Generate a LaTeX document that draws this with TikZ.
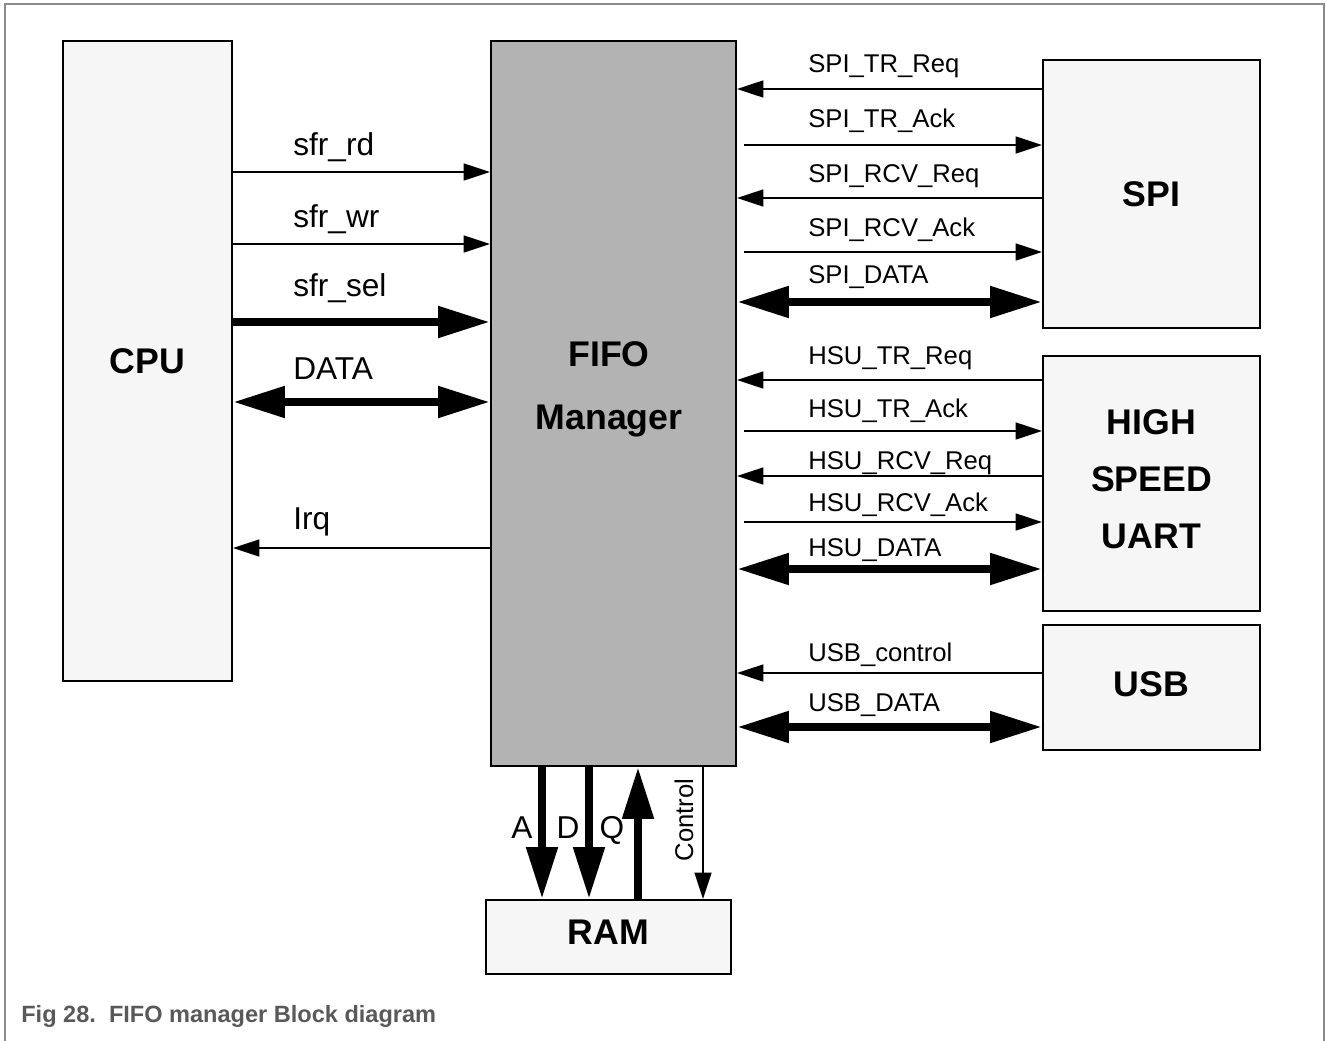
\documentclass[tikz,border=0pt]{standalone}
\usepackage{fontspec}
\setmainfont{Liberation Sans}
\usetikzlibrary{arrows.meta, positioning}

\definecolor{framegray}{HTML}{8C8C8C}
\definecolor{boxfill}{HTML}{F6F6F6}
\definecolor{fifofill}{HTML}{B3B3B3}
\definecolor{captiongray}{HTML}{595959}

\tikzset{
  block/.style={draw, line width=1.2pt, fill=boxfill, inner sep=0pt, align=center, font=\fontsize{20.3}{32.3}\selectfont\bfseries},
  sig/.style={line width=1.1pt, -{Triangle[length=15pt, width=9.6pt]}},
  bus/.style={line width=4.8pt, -{Triangle[length=29.5pt, width=17pt]}},
  busboth/.style={line width=4.8pt, {Triangle[length=29.5pt, width=17pt]}-{Triangle[length=29.5pt, width=17pt]}},
  cpulbl/.style={anchor=base west, inner sep=0pt, font=\fontsize{18}{21}\selectfont},
  perlbl/.style={anchor=base west, inner sep=0pt, font=\fontsize{14.6}{17}\selectfont},
}

\begin{document}
\begin{tikzpicture}[x=0.02cm, y=-0.02cm]
  \useasboundingbox (0,0) rectangle (1326,1041);
  \draw[framegray, line width=0.9pt] (5,1041) -- (5,4) -- (1324,4) -- (1324,1041);

  % blocks
  \node[block, minimum width=3.38cm, minimum height=12.8cm] (cpu) at (147.5,361) {CPU};
  \node[block, fill=fifofill, minimum width=4.9cm, minimum height=14.5cm] (fifo) at (613.5,403.5) {};
  \node[inner sep=0pt, align=center, font=\fontsize{20.3}{35.7}\selectfont\bfseries] (fifolbl) at (609,389) {FIFO\\Manager};
  \node[block, minimum width=4.34cm, minimum height=5.36cm] (spi) at (1151.5,194) {SPI};
  \node[block, minimum width=4.34cm, minimum height=5.1cm, text depth=5pt] (hsu) at (1151.5,483.5) {HIGH\\SPEED\\UART};
  \node[block, minimum width=4.34cm, minimum height=2.5cm, text depth=4pt] (usb) at (1151.5,687.5) {USB};
  \node[block, minimum width=4.9cm, minimum height=1.48cm, text depth=5pt] (ram) at (608.5,937) {RAM};

  % CPU side
  \draw[sig] (cpu.east |- 0,172) -- (fifo.west |- 0,172);
  \draw[sig] (cpu.east |- 0,244) -- (fifo.west |- 0,244);
  \draw[bus] (cpu.east |- 0,322) -- (fifo.west |- 0,322);
  \draw[busboth] (cpu.east |- 0,402) -- (fifo.west |- 0,402);
  \draw[sig] (fifo.west |- 0,548) -- (cpu.east |- 0,548);
  \node[cpulbl] (rd) at (293,155) {sfr\_rd};
  \node[cpulbl] (wr) at (293,227) {sfr\_wr};
  \node[cpulbl] (sel) at (293,296) {sfr\_sel};
  \node[cpulbl] (data) at (293,379) {DATA};
  \node[cpulbl] (irq) at (293,529) {Irq};

  % peripheral side
  \foreach \src/\y/\b/\txt in {spi/89/72/SPI\_TR\_Req, spi/198/182/SPI\_RCV\_Req, hsu/380/364/HSU\_TR\_Req, hsu/476/469/HSU\_RCV\_Req, usb/673/661/USB\_control} {
    \draw[sig] (\src.west |- 0,\y) -- (fifo.east |- 0,\y);
    \node[perlbl] (l\y) at (808,\b) {\txt};
  }
  \foreach \dst/\y/\b/\txt in {spi/145/127/SPI\_TR\_Ack, spi/252/236/SPI\_RCV\_Ack, hsu/431/417/HSU\_TR\_Ack, hsu/522/511/HSU\_RCV\_Ack} {
    \draw[sig] ([xshift=4pt]fifo.east |- 0,\y) -- (\dst.west |- 0,\y);
    \node[perlbl] (l\y) at (808,\b) {\txt};
  }
  \foreach \dst/\y/\b/\txt in {spi/302/283/SPI\_DATA, hsu/569/556/HSU\_DATA, usb/727/711/USB\_DATA} {
    \draw[busboth] (fifo.east |- 0,\y) -- (\dst.west |- 0,\y);
    \node[perlbl] (l\y) at (808,\b) {\txt};
  }

  % RAM side
  \draw[bus] (fifo.south -| 542,0) -- (ram.north -| 542,0);
  \draw[bus] (fifo.south -| 589,0) -- (ram.north -| 589,0);
  \draw[bus] (ram.north -| 638,0) -- (fifo.south -| 638,0);
  \draw[sig] (fifo.south -| 703,0) -- (ram.north -| 703,0);
  \node[cpulbl, anchor=base] (la) at (522,838) {A};
  \node[cpulbl, anchor=base] (ld) at (568,838) {D};
  \node[cpulbl, anchor=base] (lq) at (612,838) {Q};
  \node[perlbl, anchor=base, rotate=90] (lctl) at (693,820) {Control};

  \node[anchor=base west, inner sep=0pt, text=captiongray, font=\fontsize{13.4}{16}\selectfont\bfseries] (cap) at (21,1022) {Fig 28.\ \ FIFO manager Block diagram};
\end{tikzpicture}
\end{document}
